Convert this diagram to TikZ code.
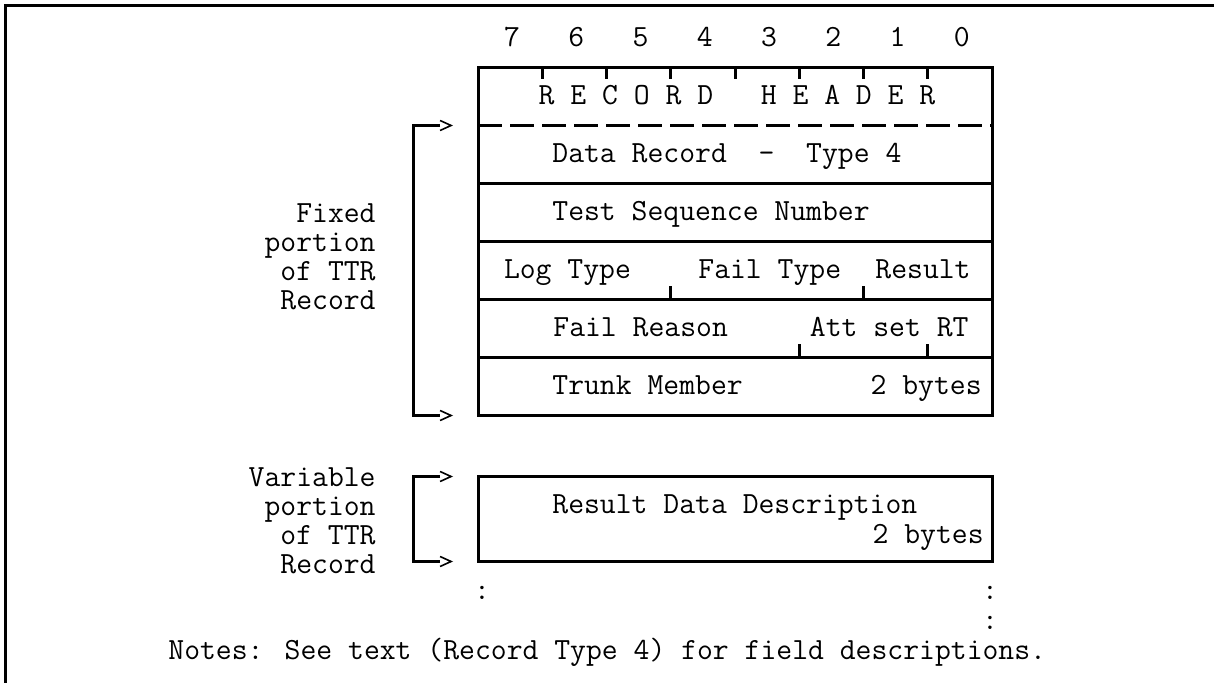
\documentclass[tikz,border=0pt]{standalone}
\usepackage{fontspec}
\usetikzlibrary{positioning, arrows.meta}

\begin{document}
\begin{tikzpicture}[
    x=0.5pt, y=-0.5pt,
    node distance=0pt,
    txt/.style={font=\ttfamily\fontsize{15.4}{14.5}\selectfont, inner sep=0pt, text height=1.5ex, text depth=.25ex, yshift=-1.5pt},
    lbl/.style={font=\ttfamily\fontsize{15.4}{14.5}\selectfont, inner sep=0pt, align=right, anchor=east},
    row/.style={minimum width=257pt, minimum height=29pt, inner sep=0pt, outer sep=0pt},
    rule/.style={line width=1.5pt},
    gt/.style={line width=0.8pt, -{Straight Barb[length=5.5pt, width=5pt]}}
  ]
  \useasboundingbox (0,0) rectangle (1214,683);
  \draw[rule] (5.5,683) -- (5.5,5.5) -- (1214,5.5);

  % record rows
  \node[row] (hdr) at (735,96.5) {};
  \node[row, below=of hdr] (data) {};
  \node[row, below=of data] (test) {};
  \node[row, below=of test] (log) {};
  \node[row, below=of log] (fail) {};
  \node[row, below=of fail] (trunk) {};
  \node[row, minimum height=42.5pt, below=30.5pt of trunk] (res) {};

  \draw[rule] (hdr.north west) rectangle (trunk.south east);
  \draw[rule, dash pattern=on 11.75pt off 4.25pt] (data.north west) -- (data.north east);
  \foreach \r in {test, log, fail, trunk}
    \draw[rule] (\r.north west) -- (\r.north east);
  \draw[rule] (res.north west) rectangle (res.south east);

  % bit ticks
  \foreach \k in {1,...,7}
    \draw[rule] ([xshift=\k*32.125pt]hdr.north west) -- ++(0,12);
  \foreach \k in {3,6}
    \draw[rule] ([xshift=\k*32.125pt]log.south west) -- ++(0,-13);
  \foreach \k in {5,7}
    \draw[rule] ([xshift=\k*32.125pt]fail.south west) -- ++(0,-13);

  \foreach \b [count=\i from 0] in {7,6,...,0}
    \node[txt] (bit\b) at ([xshift={(\i+0.5)*32.125pt+1pt}, yshift=14.75pt]hdr.north west) {\b};

  % fields
  \node[txt] (hdrtxt) at ([xshift=1pt]hdr.center) {R E C O R D~~~H E A D E R};
  \node[txt, anchor=west] (datatxt) at ([xshift=37pt]data.west) {Data Record~~-~~Type 4};
  \node[txt, anchor=west] (testtxt) at ([xshift=37pt]test.west) {Test Sequence Number};
  \node[txt, anchor=west] (logtype) at ([xshift=12.8pt]log.west) {Log Type};
  \node[txt, anchor=west] (failtype) at ([xshift=110pt]log.west) {Fail Type};
  \node[txt, anchor=west] (result) at ([xshift=198.5pt]log.west) {Result};
  \node[txt, anchor=west] (failrsn) at ([xshift=37.5pt]fail.west) {Fail Reason};
  \node[txt, anchor=west] (attset) at ([xshift=165.75pt]fail.west) {Att set RT};
  \node[txt, anchor=west] (trunktxt) at ([xshift=37pt]trunk.west) {Trunk Member};
  \node[txt, anchor=east] (trunkbytes) at ([xshift=-5pt]trunk.east) {2 bytes};
  \node[txt, anchor=west] (restxt) at ([xshift=37pt, yshift=6.75pt]res.west) {Result Data Description};
  \node[txt, anchor=east] (resbytes) at ([xshift=-4pt, yshift=-8pt]res.east) {2 bytes};

  \node[txt] (dotl) at ([xshift=2pt, yshift=-15pt]res.south west) {:};
  \node[txt] (dotr) at ([xshift=-1pt, yshift=-15pt]res.south east) {:};
  \node[txt] (dotr2) at ([xshift=-1pt, yshift=-30pt]res.south east) {:};

  % portions
  \node[lbl] (fixlbl) at (376,257) {Fixed\\portion\\of TTR\\Record};
  \node[lbl] (varlbl) at (376,521) {Variable\\portion\\of TTR\\Record};
  \draw[rule] ([xshift=-19pt]data.north west) -| ([xshift=-32.5pt]trunk.south west)
    -- ([xshift=-19pt]trunk.south west);
  \draw[rule] ([xshift=-19pt]res.north west) -| ([xshift=-32.5pt]res.south west)
    -- ([xshift=-19pt]res.south west);
  \foreach \c in {data.north west, trunk.south west, res.north west, res.south west}
    \draw[gt] ([xshift=-13.5pt]\c) -- ([xshift=-12.5pt]\c);

  \node[txt, anchor=west] (notes) at (168,651) {Notes: See text (Record Type 4) for field descriptions.};
\end{tikzpicture}
\end{document}
